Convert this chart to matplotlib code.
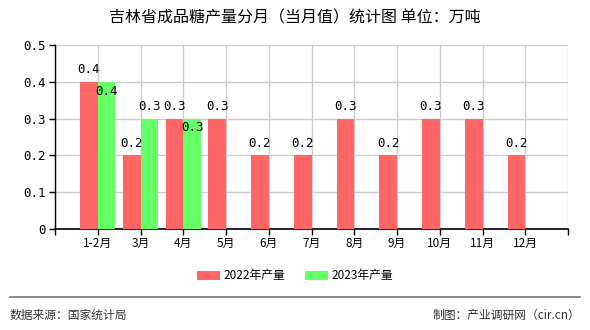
import matplotlib
matplotlib.use("Agg")
import matplotlib.pyplot as plt
from matplotlib.patches import Patch
from matplotlib.lines import Line2D

plt.rcParams['font.family'] = ['Noto Sans CJK SC', 'DejaVu Sans']

categories = ["1-2月", "3月", "4月", "5月", "6月", "7月", "8月", "9月", "10月", "11月", "12月"]
values_2022 = [0.4, 0.2, 0.3, 0.3, 0.2, 0.2, 0.3, 0.2, 0.3, 0.3, 0.2]
values_2023 = [0.4, 0.3, 0.3]
yticks = [0, 0.1, 0.2, 0.3, 0.4, 0.5]
ytick_labels = ["0", "0.1", "0.2", "0.3", "0.4", "0.5"]
title = "吉林省成品糖产量分月（当月值）统计图 单位：万吨"
series_names = ["2022年产量", "2023年产量"]

RED = "#FF6666"
GREEN = "#66FF66"

fig = plt.figure(figsize=(5.9, 3.3), dpi=100)
ax = fig.add_axes([55/590, 1-229/330, (568-55)/590, (229-45)/330])

w = 0.41
x1 = list(range(len(values_2022)))
x2 = list(range(len(values_2023)))
ax.bar([x - w/2 for x in x1], values_2022, width=w, color=RED, zorder=3)
ax.bar([x + w/2 for x in x2], values_2023, width=w, color=GREEN, zorder=3)

lab_font = dict(family=['DejaVu Sans Mono'], fontsize=9, color='black')
for x, v in zip(x1, values_2022):
    ax.annotate(f"{v:.1f}", (x - w/2, v), xytext=(0, 4),
                textcoords='offset points', ha='center', va='bottom', zorder=5, **lab_font)
for i, (x, v) in enumerate(zip(x2, values_2023)):
    inside = i < len(values_2022) and values_2022[i] == v
    if inside:
        ax.annotate(f"{v:.1f}", (x + w/2, v), xytext=(0, -2),
                    textcoords='offset points', ha='center', va='top', zorder=5, **lab_font)
    else:
        ax.annotate(f"{v:.1f}", (x + w/2, v), xytext=(0, 4),
                    textcoords='offset points', ha='center', va='bottom', zorder=5, **lab_font)

ax.set_xlim(-1, len(categories))
ax.set_ylim(0, 0.5)
ax.set_yticks(yticks)
ax.set_yticklabels(ytick_labels, family=['DejaVu Sans Mono'], fontsize=9)
ax.set_xticks(list(range(len(categories))))
ax.set_xticklabels(categories, fontsize=8.5)
ax.set_xticks([-1, len(categories)], minor=True)
ax.tick_params(axis='x', which='both', length=4, width=1, color='black', pad=2)
ax.tick_params(axis='y', length=4, width=1, color='black', pad=3)

ax.grid(True, which='both', color='#CCCCCC', linewidth=1, zorder=0)
ax.set_axisbelow(True)
for s in ['top', 'right']:
    ax.spines[s].set_visible(False)
ax.spines['left'].set_color('black')
ax.spines['bottom'].set_color('black')
ax.spines['left'].set_linewidth(1)
ax.spines['bottom'].set_linewidth(1.2)

fig.text(0.5, 1 - 18/330, title, ha='center', va='center', fontsize=11.5, fontweight='medium')

handles = [Patch(facecolor=RED, edgecolor='none'), Patch(facecolor=GREEN, edgecolor='none')]
fig.legend(handles, series_names, loc='center', bbox_to_anchor=(0.5, 1 - 276/330), ncol=2,
           frameon=False, fontsize=8.5, handlelength=2.0, handleheight=0.8,
           columnspacing=1.6, handletextpad=0.3)

fig.add_artist(Line2D([10/590, 580/590], [1 - 297/330, 1 - 297/330], color='#777777', linewidth=1.2))
fig.text(10/590, 1 - 315/330, "数据来源：国家统计局", ha='left', va='center', fontsize=8.5, color='#333333')
fig.text(580/590, 1 - 315/330, "制图：产业调研网（cir.cn）", ha='right', va='center', fontsize=8.5, color='#333333')

fig.savefig("out.png", dpi=100)
